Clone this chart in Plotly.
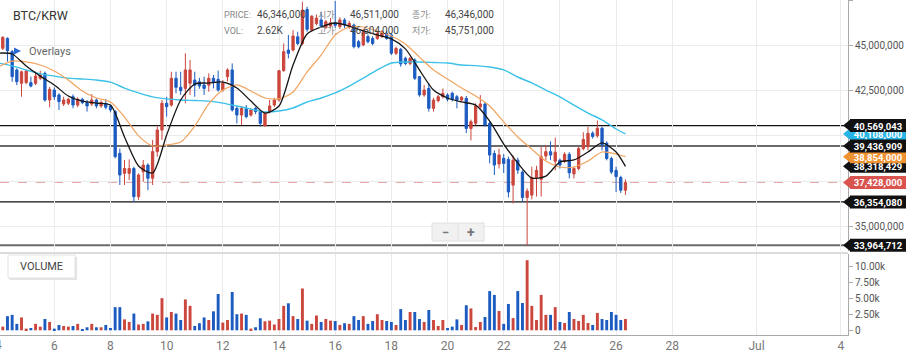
import pandas as pd
import plotly.graph_objects as go

# ---------------- data (prices in millions of KRW, 4h candles) ----------------
opens = [44.83, 45.38, 44.65, 43.64, 42.90, 42.94, 42.94, 42.90, 43.18, 43.45,
         41.98, 42.53, 42.26, 41.76, 41.80, 42.16, 41.70, 42.02, 41.83, 41.76,
         41.98, 41.65, 41.76, 41.65, 41.34, 39.04, 37.93, 37.93, 38.20, 36.64,
         38.02, 38.39, 37.66, 39.13, 40.32, 41.80, 41.70, 43.18, 42.68, 42.62,
         42.90, 43.08, 42.99, 42.81, 42.80, 43.18, 43.12, 42.53, 43.27, 43.64,
         41.52, 41.15, 41.52, 41.15, 41.52, 41.34, 40.55, 41.34, 41.70, 41.98,
         43.60, 44.74, 44.74, 45.47, 45.10, 46.98, 45.84, 46.20, 46.40, 46.00,
         46.06, 46.25, 46.03, 46.40, 46.03, 46.12, 45.20, 45.02, 45.48, 45.38,
         45.38, 45.48, 45.66, 45.57, 44.56, 44.78, 44.28, 44.00, 44.19, 43.27,
         42.26, 42.62, 41.52, 41.94, 42.16, 42.26, 42.35, 42.16, 41.98,
         42.07, 40.41, 40.69, 41.60, 41.76, 40.69, 39.03, 38.45, 38.76, 38.70,
         37.28, 38.66, 38.00, 36.60, 36.73, 37.70, 37.60, 38.89, 39.13, 38.60,
         38.66, 38.60, 38.98, 37.90, 38.20, 39.30, 39.40, 40.15, 40.00, 40.42,
         39.60, 38.75, 38.10, 37.70, 37.00]
highs = [45.50, 45.44, 44.74, 43.73, 43.60, 43.64, 43.27, 43.55, 43.60, 43.55,
         42.70, 42.68, 42.35, 42.16, 42.10, 42.29, 42.13, 42.10, 41.98, 42.31,
         42.07, 41.95, 42.04, 41.70, 41.43, 39.30, 38.67, 38.70, 38.30, 37.93,
         38.67, 38.48, 39.77, 40.51, 41.98, 42.16, 43.54, 43.54, 43.54, 44.56,
         44.19, 43.54, 43.20, 43.27, 43.45, 43.36, 43.60, 43.08, 43.73, 44.00,
         41.65, 41.65, 41.70, 41.52, 41.60, 41.43, 41.34, 41.98, 42.10, 43.64,
         45.10, 45.57, 45.84, 45.75, 47.40, 47.13, 46.67, 46.70, 46.85, 46.40,
         46.50, 47.45, 46.55, 46.50, 46.35, 46.20, 45.30, 45.90, 45.60, 45.50,
         45.75, 45.84, 45.80, 45.66, 44.92, 44.85, 44.37, 44.37, 44.28, 43.30,
         42.80, 42.90, 42.10, 42.26, 42.62, 42.35, 42.44, 42.26, 42.20,
         42.20, 40.90, 41.80, 42.25, 41.85, 40.80, 39.20, 39.30, 39.00, 38.85,
         38.94, 38.80, 38.10, 37.10, 38.30, 38.35, 39.40, 39.50, 39.70, 39.90,
         38.75, 39.10, 39.10, 38.30, 39.40, 40.20, 40.50, 40.25, 40.85, 40.50,
         39.70, 38.85, 38.30, 37.80, 37.60]
lows = [44.74, 44.10, 42.99, 42.80, 42.16, 42.85, 42.68, 42.80, 43.08, 41.89,
        41.57, 41.98, 41.43, 41.65, 41.70, 41.52, 41.58, 41.75, 41.34, 41.65,
        41.52, 41.55, 41.46, 41.30, 38.76, 37.29, 37.29, 37.56, 36.354, 36.46,
        37.47, 37.00, 37.29, 38.85, 39.77, 41.06, 41.61, 42.35, 42.26, 41.80,
        42.26, 42.16, 42.60, 42.26, 42.44, 42.62, 42.44, 42.44, 43.00, 41.34,
        40.69, 40.60, 40.97, 41.06, 41.20, 40.51, 40.51, 41.24, 41.60, 41.89,
        43.54, 44.28, 44.65, 45.00, 45.00, 45.75, 45.75, 46.10, 45.95, 45.90,
        45.95, 45.95, 45.90, 45.95, 45.90, 44.83, 44.83, 44.95, 45.10, 45.00,
        45.30, 45.40, 45.30, 44.46, 44.46, 43.82, 43.90, 43.90, 43.08, 42.16,
        42.16, 41.34, 41.34, 41.85, 42.07, 41.90, 41.90, 41.52, 41.90,
        40.15, 39.75, 40.60, 41.50, 40.50, 38.48, 37.84, 38.20, 37.95, 36.60,
        36.27, 37.90, 36.35, 33.964712, 36.50, 36.65, 36.65, 38.66, 38.66, 38.10,
        38.20, 38.50, 37.65, 37.65, 38.10, 39.20, 39.20, 39.85, 39.90, 39.20,
        38.65, 37.90, 36.90, 36.85, 36.73]
closes = [45.44, 44.70, 43.27, 42.99, 43.54, 43.58, 42.75, 43.30, 43.36, 41.98,
          42.57, 42.16, 41.89, 41.98, 42.02, 41.70, 42.02, 41.83, 41.65, 41.98,
          41.65, 41.85, 41.58, 41.43, 38.85, 37.84, 38.20, 38.20, 36.64, 37.84,
          38.39, 37.66, 39.13, 40.32, 41.80, 41.61, 43.18, 42.68, 42.50, 43.64,
          43.64, 42.80, 42.75, 42.62, 43.18, 42.94, 42.53, 42.90, 43.64, 41.43,
          41.15, 41.52, 41.06, 41.43, 41.34, 40.69, 41.24, 41.65, 41.98, 43.60,
          44.65, 44.56, 45.51, 45.10, 46.95, 45.88, 46.60, 46.50, 46.06, 46.30,
          46.25, 46.10, 46.40, 46.12, 46.21, 44.92, 44.92, 45.75, 45.20, 45.10,
          45.66, 45.75, 45.38, 44.56, 44.83, 43.97, 44.00, 44.28, 43.18, 42.26,
          42.53, 41.52, 41.98, 42.16, 42.35, 42.02, 42.02, 41.98, 42.13,
          40.41, 40.78, 41.65, 41.76, 40.60, 38.94, 38.39, 38.95, 38.48, 36.90,
          38.66, 38.11, 36.60, 36.95, 37.70, 38.10, 38.85, 39.13, 38.94, 39.10,
          38.39, 38.98, 37.96, 38.20, 39.30, 39.80, 40.14, 39.96, 40.42, 39.50,
          38.75, 38.00, 37.75, 37.00, 37.428]
volumes_k = [0.57, 2.2, 2.4, 1.0, 2.0, 0.26, 0.36, 1.0, 0.57, 1.76,
             1.3, 0.26, 0.83, 0.67, 0.57, 0.67, 1.0, 0.05, 0.47, 1.0,
             0.47, 0.47, 0.83, 0.36, 3.6, 3.6, 1.7, 1.3, 2.6, 0.9,
             1.0, 1.4, 2.6, 2.4, 5.0, 2.0, 2.85, 2.6, 1.6, 4.8,
             3.8, 0.67, 1.1, 2.0, 1.6, 2.95, 5.65, 1.2, 1.6, 5.96,
             2.5, 2.6, 2.4, 0.26, 0.47, 1.87, 1.4, 1.5, 0.9, 1.76,
             3.8, 4.2, 2.2, 1.76, 6.5, 1.5, 1.0, 2.3, 1.3, 1.76,
             1.5, 1.45, 0.83, 1.1, 1.0, 2.2, 1.6, 2.2, 1.0, 1.45,
             2.5, 1.6, 1.45, 1.3, 0.83, 3.3, 1.6, 2.85, 2.85, 1.76,
             1.3, 3.16, 1.6, 0.67, 1.6, 0.36, 0.57, 1.7, 0.83,
             3.9, 3.4, 0.5, 1.3, 2.07, 6.1, 5.5, 3.0, 1.0, 4.1,
             1.9, 6.1, 4.25, 10.9, 3.8, 1.6, 5.5, 2.4, 2.4, 3.6,
             1.3, 1.14, 2.85, 1.76, 1.45, 2.4, 1.14, 0.83, 2.7, 1.76,
             1.6, 2.85, 2.4, 1.6, 1.76]
times = pd.date_range("2021-06-04 04:00", periods=len(closes), freq="4h")

# moving averages read at 12h steps (+ final candle)
ma_short = [44.57, 44.52, 43.86, 43.30, 42.81, 42.20, 41.92, 41.81, 41.70, 39.94,
            38.34, 37.95, 40.05, 41.98, 42.86, 42.92, 42.97, 42.64, 41.92, 41.26,
            41.65, 43.91, 45.62, 46.01, 46.23, 46.06, 45.79, 45.57, 45.35, 44.80,
            43.64, 42.53, 42.09, 41.87, 41.70, 40.82, 39.55, 38.50, 37.67, 37.78,
            38.56, 38.67, 39.11, 39.61, 39.11, 38.318429]
ma_mid = [43.80, 44.13, 44.08, 43.91, 43.58, 43.08, 42.48, 42.09, 41.87, 41.04,
          40.00, 39.44, 39.50, 39.66, 40.54, 41.76, 42.53, 42.81, 42.48, 42.09,
          42.04, 42.42, 43.53, 44.46, 45.57, 46.01, 46.01, 45.79, 45.51, 45.07,
          44.35, 43.64, 43.14, 42.64, 42.20, 41.65, 40.77, 39.94, 39.27, 38.61,
          38.28, 38.28, 38.61, 39.11, 39.00, 38.854]
ma_long = [44.02, 43.86, 43.64, 43.42, 43.30, 43.19, 43.14, 43.08, 42.97, 42.64,
           42.37, 42.15, 42.04, 41.98, 41.95, 41.92, 41.81, 41.65, 41.48, 41.32,
           41.37, 41.54, 41.87, 42.09, 42.37, 42.75, 43.19, 43.64, 44.02, 44.08,
           44.08, 44.05, 44.02, 43.91, 43.88, 43.80, 43.64, 43.25, 42.92, 42.53,
           42.15, 41.70, 41.26, 40.88, 40.38, 40.108]
ma_times = list(pd.date_range("2021-06-04 00:00", periods=45, freq="12h")) + [times[-1]]

level_black = [40569043, 36354080]
level_gray = [39436909, 33964712]

tick_dates = ["2021-06-06", "2021-06-08", "2021-06-10", "2021-06-12", "2021-06-14",
              "2021-06-16", "2021-06-18", "2021-06-20", "2021-06-22", "2021-06-24",
              "2021-06-26", "2021-06-28", "2021-07-01", "2021-07-04"]
tick_text = ["6", "8", "10", "12", "14", "16", "18", "20", "22", "24", "26", "28", "Jul", "4"]
price_ticks = [35000000, 37500000, 40000000, 42500000, 45000000, 47500000]
vol_ticks = [0, 2.5, 5, 7.5, 10]
vol_tick_text = ["0", "2.50k", "5.00k", "7.50k", "10.00k"]

info_labels = [["PRICE:", "시가:", "종가:"], ["VOL:", "고가:", "저가:"]]
info_values = [["46,346,000", "46,511,000", "46,346,000"], ["2.62K", "46,604,000", "45,751,000"]]

# ---------------- geometry ----------------
W, H = 913, 358
PW, PH = 848, 335
P_TOP, P_BOT = 0, 251          # price panel pixel span
V_TOP, V_BOT = 254, 335        # volume panel pixel span
PR = [33.645e6, 47.5e6]
VR = [-0.731, 11.866]
XR = ["2021-06-04 01:37", "2021-07-04 06:09"]

RED = "#cb463c"
BLUE = "#1c5cc0"
FONT = "Roboto, Arial, sans-serif"
KFONT = "Roboto, Noto Sans CJK KR, sans-serif"


def pxx(x):
    return x / PW


def pyy(y):
    return 1 - y / PH


def price_py(p):
    return P_TOP + (PR[1] - p) / (PR[1] - PR[0]) * (P_BOT - P_TOP)


M = 1e6
o = [v * M for v in opens]
h = [v * M for v in highs]
l = [v * M for v in lows]
c = [v * M for v in closes]
vol_colors = [RED if cc >= oo else BLUE for oo, cc in zip(opens, closes)]

fig = go.Figure()
fig.add_trace(go.Candlestick(
    x=times, open=o, high=h, low=l, close=c, xaxis="x", yaxis="y",
    increasing=dict(line=dict(color=RED, width=1), fillcolor=RED),
    decreasing=dict(line=dict(color=BLUE, width=1), fillcolor=BLUE),
    whiskerwidth=0, hoverinfo="skip", showlegend=False))
for vals, col, wd in [(ma_long, "#3cc2e8", 1.4), (ma_mid, "#f2a35e", 1.2), (ma_short, "#151515", 1.3)]:
    fig.add_trace(go.Scatter(x=ma_times, y=[v * M for v in vals], mode="lines",
                             line=dict(color=col, width=wd, shape="spline", smoothing=0.7),
                             xaxis="x", yaxis="y", hoverinfo="skip", showlegend=False))
fig.add_trace(go.Bar(x=times, y=volumes_k, marker=dict(color=vol_colors, line=dict(width=0)),
                     width=4 * 3600 * 1000 * 0.62, xaxis="x2", yaxis="y2",
                     hoverinfo="skip", showlegend=False))

shapes = []
# panel separator
shapes.append(dict(type="line", xref="paper", yref="paper", x0=0, x1=1,
                   y0=pyy(253), y1=pyy(253), line=dict(color="#cfcfcf", width=1.5)))
# level lines
for v in level_black:
    shapes.append(dict(type="line", xref="paper", yref="y", x0=0, x1=1, y0=v, y1=v,
                       line=dict(color="#111", width=1.3), layer="below"))
for v in level_gray:
    shapes.append(dict(type="line", xref="paper", yref="y", x0=0, x1=1, y0=v, y1=v,
                       line=dict(color="#6a6a6a", width=2), layer="below"))
last_close = closes[-1] * M
shapes.append(dict(type="line", xref="paper", yref="y", x0=0, x1=1, y0=last_close, y1=last_close,
                   line=dict(color="#e9a7a7", width=1, dash="dash"), layer="below"))


def tag(value, bg, fg="white"):
    yc = price_py(value)
    hh = 6.5
    shapes.append(dict(type="path", xref="paper", yref="paper",
                       path=f"M {pxx(843)},{pyy(yc)} L {pxx(851)},{pyy(yc - hh)} L {pxx(851)},{pyy(yc + hh)} Z",
                       fillcolor=bg, line=dict(width=0), layer="above"))
    shapes.append(dict(type="rect", xref="paper", yref="paper",
                       x0=pxx(850), x1=pxx(906), y0=pyy(yc + hh), y1=pyy(yc - hh),
                       fillcolor=bg, line=dict(width=0), layer="above",
                       label=dict(text=f"{int(round(value)):,}", textposition="middle center",
                                  font=dict(color=fg, size=9.5, family=FONT, weight="bold"))))


tag(ma_long[-1] * M, "#29b4e6")
tag(ma_short[-1] * M, "#111111")
tag(ma_mid[-1] * M, "#ef9232")
tag(level_black[0], "#111111")
tag(level_gray[0], "#111111")
tag(last_close, "#d9534f")
tag(level_black[1], "#111111")
tag(level_gray[1], "#111111")

# Overlays triangle
shapes.append(dict(type="path", xref="paper", yref="paper",
                   path=f"M {pxx(14)},{pyy(47.5)} L {pxx(21)},{pyy(51)} L {pxx(14)},{pyy(54.5)} Z",
                   fillcolor="#2a68d4", line=dict(width=0), layer="above"))
# VOLUME box
shapes.append(dict(type="rect", xref="paper", yref="paper", x0=pxx(9.5), x1=pxx(77), y0=pyy(280), y1=pyy(257),
                   fillcolor="#e4e4e4", line=dict(width=0), layer="above"))
shapes.append(dict(type="rect", xref="paper", yref="paper", x0=pxx(8), x1=pxx(75), y0=pyy(278), y1=pyy(255),
                   fillcolor="white", line=dict(color="#e2e2e2", width=1), layer="above"))
# zoom buttons
shapes.append(dict(type="rect", xref="paper", yref="paper", x0=pxx(432), x1=pxx(484), y0=pyy(241), y1=pyy(223),
                   fillcolor="#f1f1f1", line=dict(color="#e0e0e0", width=1), layer="above"))
shapes.append(dict(type="line", xref="paper", yref="paper", x0=pxx(458), x1=pxx(458), y0=pyy(240), y1=pyy(224),
                   line=dict(color="#e0e0e0", width=1), layer="above"))

ann = []


def text(x, y, s, size, color, anchor="left", font=FONT):
    ann.append(dict(xref="paper", yref="paper", x=pxx(x), y=pyy(y), text=s, showarrow=False,
                    xanchor=anchor, yanchor="middle", font=dict(size=size, color=color, family=font)))


text(11, 15.5, "BTC/KRW", 12.5, "#333")
text(27, 51, "Overlays", 11, "#666")
text(41.5, 266.5, "VOLUME", 11, "#444", anchor="center")
text(445, 232, "<b>−</b>", 13, "#777", anchor="center")
text(471, 232, "<b>+</b>", 14, "#777", anchor="center")
text(-1.9, 345, "4", 12, "#777", anchor="center")
rows_y = [14.5, 31]
lab_x = [222, 316, 410]
val_x = [255, 348, 443]
for r in range(2):
    for j in range(3):
        text(lab_x[j], rows_y[r], info_labels[r][j], 9, "#888", font=KFONT)
        text(val_x[j], rows_y[r], info_values[r][j], 10, "#444", font=KFONT)

GRID = "#ebebeb"
fig.update_layout(
    width=W, height=H, margin=dict(l=0, r=W - PW, t=0, b=H - PH),
    paper_bgcolor="white", plot_bgcolor="white", showlegend=False,
    font=dict(family=FONT),
    xaxis=dict(domain=[0, 1], range=XR, anchor="y", type="date", tickvals=tick_dates,
               showticklabels=False, showgrid=True, gridcolor=GRID, zeroline=False,
               rangeslider=dict(visible=False), ticks=""),
    xaxis2=dict(domain=[0, 1], range=XR, anchor="y2", type="date", matches="x",
                tickvals=tick_dates, ticktext=tick_text, tickfont=dict(size=12, color="#777"),
                showgrid=True, gridcolor=GRID, zeroline=False, showline=True,
                linecolor="#aaa", linewidth=1, ticks=""),
    yaxis=dict(domain=[1 - P_BOT / PH, 1], range=PR, anchor="x", side="right",
               tickvals=price_ticks, tickformat=",d", tickfont=dict(size=10, color="#555"),
               showgrid=True, gridcolor=GRID, zeroline=False, showline=True, linecolor="#aaa",
               ticks="outside", ticklen=4, tickcolor="#aaa"),
    yaxis2=dict(domain=[0, 1 - V_TOP / PH], range=VR, anchor="x2", side="right",
                tickvals=vol_ticks, ticktext=vol_tick_text, tickfont=dict(size=10, color="#555"),
                showgrid=False, zeroline=False, showline=True, linecolor="#aaa",
                ticks="outside", ticklen=4, tickcolor="#aaa"),
    bargap=0.3, shapes=shapes, annotations=ann,
)

fig.write_html("out.html", config={"displayModeBar": False},
               post_script="document.body.style.margin='0';document.body.style.overflow='hidden';")
